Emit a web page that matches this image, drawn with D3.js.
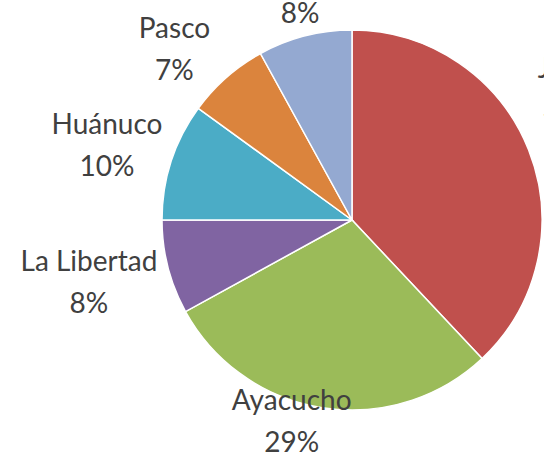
<!DOCTYPE html>
<html lang="es">
<head>
<meta charset="utf-8">
<script src="https://d3js.org/d3.v7.min.js"></script>
<style>
  body { margin: 0; background: #fff; }
  text { font-family: Lato, "Open Sans", sans-serif; fill: #404040; }
</style>
</head>
<body>
<div id="chart"></div>
<script>
    // data (percent of total)
    const regions = ["Junín", "Ayacucho", "La Libertad", "Huánuco", "Pasco", "Otros"];
    const shares = [38, 29, 8, 10, 7, 8];
    const colors = ["#C0504D", "#9BBB59", "#8064A2", "#4BACC6", "#DB843D", "#94A9D1"];

    const width = 544, height = 463;
    const cx = 352, cy = 220, radius = 190;

    // small hand tuning of label boxes, like excel does for collisions
    const nudge = {
        "Junín": [4, -54], "Ayacucho": [-20, -6], "La Libertad": [-5, 10],
        "Huánuco": [-4, -10], "Pasco": [-23, -13], "Otros": [6, -25]
    };

    const data = regions.map((r, i) => ({ name: r, value: shares[i], color: colors[i] }));

    const svg = d3.select("#chart")
        .append("svg")
        .attr("width", width)
        .attr("height", height);

    const g = svg.append("g")
        .attr("transform", `translate(${cx},${cy})`);

    const pie = d3.pie().value(d => d.value).sort(null);
    const arc = d3.arc().innerRadius(0).outerRadius(radius);
    const arcs = pie(data);

    g.selectAll("path")
        .data(arcs)
        .join("path")
        .attr("d", arc)
        .attr("fill", d => d.data.color)
        .attr("stroke", "#fff")
        .attr("stroke-width", 1.5);

    const fontSize = 28, lineGap = 42;
    const labels = g.selectAll("g.lbl")
        .data(arcs)
        .join("g")
        .attr("class", "lbl");

    labels.append("text")
        .attr("text-anchor", "middle")
        .style("font-size", fontSize + "px")
        .attr("y", -lineGap / 2 + 10)
        .text(d => d.data.name);
    labels.append("text")
        .attr("text-anchor", "middle")
        .style("font-size", fontSize + "px")
        .attr("y", lineGap / 2 + 10)
        .text(d => d.data.value + "%");

    labels.attr("transform", function (d) {
        const a = (d.startAngle + d.endAngle) / 2;
        const w = this.getBBox().width;
        const s = Math.sin(a), c = Math.cos(a);
        const n = nudge[d.data.name] || [0, 0];
        const x = (radius + 8) * s + s * w / 2 + n[0];
        const y = -(radius + 8) * c - c * 12 + n[1];
        return `translate(${x},${y})`;
    });
</script>
</body>
</html>
